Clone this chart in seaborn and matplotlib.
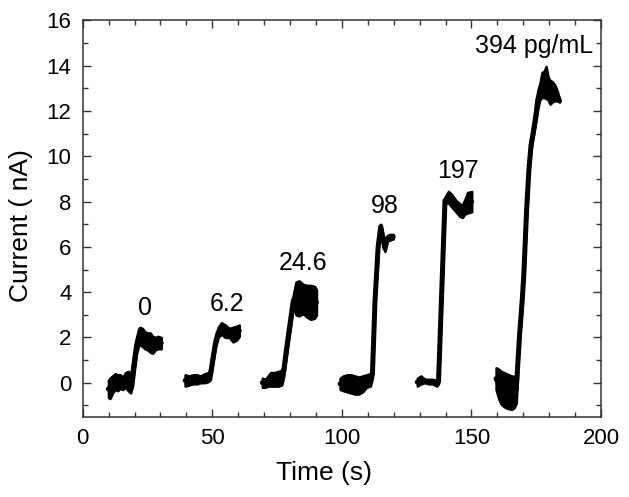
import numpy as np
import pandas as pd
import matplotlib
matplotlib.use("Agg")
import matplotlib.pyplot as plt
from matplotlib.ticker import MultipleLocator
import seaborn as sns

# ---- data (time in s, current envelope in nA) ----
t_0 = [9.9, 10.5, 11.5, 12.5, 13.5, 14.5, 15.5, 16.5, 17.5, 18.5, 19.3, 20.0, 20.8,
       21.5, 22.0, 23.0, 24.0, 25.0, 26.0, 27.0, 28.0, 29.0, 30.3]
lo_0 = [-0.65, -0.7, -0.45, -0.3, -0.35, -0.25, -0.3, -0.2, -0.35, -0.45, -0.1, 0.6, 1.3,
        1.6, 1.7, 1.6, 1.5, 1.45, 1.35, 1.3, 1.45, 1.5, 1.5]
hi_0 = [0.1, 0.2, 0.3, 0.4, 0.35, 0.35, 0.25, 0.45, 0.5, 0.4, 0.8, 1.4, 2.0,
        2.35, 2.45, 2.4, 2.25, 2.2, 2.2, 2.05, 2.0, 2.05, 2.0]

t_1 = [39.5, 41, 42.5, 44, 45.5, 47, 48.5, 49.3, 50.3, 51.3, 52.3, 53.5, 55, 56.5, 58, 59.5, 60.4]
lo_1 = [-0.15, -0.1, -0.05, -0.05, 0.0, 0.0, 0.05, 0.15, 0.9, 1.6, 2.0, 2.15, 2.0, 2.0, 1.8, 1.9, 2.05]
hi_1 = [0.35, 0.3, 0.35, 0.35, 0.3, 0.4, 0.45, 0.6, 1.3, 2.0, 2.45, 2.65, 2.55, 2.4, 2.45, 2.5, 2.55]

t_2 = [69.3, 70.5, 71.5, 72.5, 74, 75.5, 76.8, 77.6, 78.5, 79.5, 80.5, 81.3, 82.3,
       83.5, 85, 86.5, 88, 89.5, 90.2]
lo_2 = [-0.2, -0.2, -0.15, -0.15, -0.15, -0.15, -0.1, 0.3, 1.1, 1.9, 2.7, 3.4, 3.0,
        2.95, 3.05, 2.9, 2.8, 2.85, 3.0]
hi_2 = [0.2, 0.15, 0.3, 0.45, 0.45, 0.5, 0.55, 0.8, 1.6, 2.5, 3.3, 3.9, 4.45,
        4.5, 4.35, 4.3, 4.3, 4.25, 4.1]

t_3 = [99.3, 100.5, 102, 103.5, 105, 106.5, 108, 109.5, 111, 111.8, 112.8, 114.0,
       115.0, 116.6, 117.5, 118.5, 119.8]
lo_3 = [-0.3, -0.35, -0.4, -0.45, -0.5, -0.5, -0.4, -0.2, -0.15, 0.2, 3.5, 5.9,
        6.8, 5.8, 6.25, 6.3, 6.35]
hi_3 = [0.2, 0.3, 0.35, 0.35, 0.3, 0.25, 0.3, 0.35, 0.4, 0.6, 3.8, 6.1,
        7.0, 6.05, 6.5, 6.55, 6.55]

t_4 = [129.1, 130.5, 132, 133.5, 135, 136.6, 137.3, 139.8, 141.1, 142.5, 144,
       145.5, 146.5, 147.5, 148.5, 150.1]
lo_4 = [-0.15, -0.05, 0.0, -0.05, -0.05, -0.15, -0.05, 7.9, 7.95, 7.75, 7.55,
        7.35, 7.3, 7.45, 7.5, 7.55]
hi_4 = [0.2, 0.3, 0.15, 0.15, 0.15, 0.1, 0.15, 8.2, 8.45, 8.3, 8.05,
        7.9, 7.85, 8.1, 8.4, 8.45]

t_5 = [159.5, 160.5, 161.5, 162.5, 163.5, 164.5, 165.5, 166.5, 167.3, 168.0, 168.6,
       169.6, 170.2, 171.3, 172.2, 173.0, 173.9, 174.8, 175.6, 176.4, 177.2, 178.0,
       178.8, 179.6, 180.3, 181.2, 182.2, 183.2, 184.0]
lo_5 = [-0.3, -0.7, -0.95, -1.05, -1.12, -1.15, -1.18, -1.1, -0.9, 0.9, 2.0,
        3.5, 4.6, 7.5, 9.3, 10.3, 10.9, 11.5, 12.1, 12.5, 12.6, 12.6,
        12.55, 12.5, 12.3, 12.4, 12.45, 12.45, 12.4]
hi_5 = [0.66, 0.6, 0.5, 0.45, 0.4, 0.35, 0.3, 0.28, 0.3, 1.2, 2.3,
        3.8, 4.9, 7.8, 9.6, 10.7, 11.3, 12.0, 12.9, 13.2, 13.7, 13.75,
        13.97, 13.5, 13.35, 13.3, 13.15, 12.85, 12.5]

labels = ["0", "6.2", "24.6", "98", "197", "394 pg/mL"]
label_x = [24.2, 55.7, 85.2, 116.4, 144.9, 174.2]
label_y = [3.0, 3.16, 5.0, 7.5, 9.04, 14.56]

x_ticks = [0, 50, 100, 150, 200]
y_ticks = [0, 2, 4, 6, 8, 10, 12, 14, 16]

segments = [(t_0, lo_0, hi_0), (t_1, lo_1, hi_1), (t_2, lo_2, hi_2),
            (t_3, lo_3, hi_3), (t_4, lo_4, hi_4), (t_5, lo_5, hi_5)]

# ---- plotting ----
sns.set_theme(style="ticks")
plt.rcParams["font.family"] = ["Liberation Sans", "DejaVu Sans"]

fig = plt.figure(figsize=(6.29, 4.97), dpi=100)
ax = fig.add_axes([0.1315, 0.1616, 0.8240, 0.7972])

for t, lo, hi in segments:
    df = pd.DataFrame({"time": list(t) + list(t), "current": list(lo) + list(hi)})
    sns.lineplot(data=df, x="time", y="current", estimator="mean",
                 errorbar=("pi", 100), color="black", linewidth=3.6,
                 err_kws={"alpha": 1, "linewidth": 1.8, "edgecolor": "black"},
                 ax=ax, legend=False)

for txt, x, y in zip(labels, label_x, label_y):
    ax.text(x, y, txt, ha="center", va="baseline", fontsize=18, color="black")

ax.set_xlim(0, 200)
ax.set_ylim(-1.5, 16)
ax.set_xticks(x_ticks)
ax.set_yticks(y_ticks)
ax.xaxis.set_minor_locator(MultipleLocator(10))
ax.yaxis.set_minor_locator(MultipleLocator(1))
ax.tick_params(which="both", direction="in", top=True, right=True,
               color="#333333", width=1)
ax.tick_params(which="major", length=6, labelsize=16, pad=8, labelcolor="black")
ax.tick_params(which="minor", length=3.5)
for s in ax.spines.values():
    s.set_color("#333333")
    s.set_linewidth(1.1)

ax.set_xlabel("Time (s)", fontsize=19, color="black")
ax.set_ylabel("Current ( nA)", fontsize=19, color="black")
ax.xaxis.set_label_coords(0.465, -0.113)
ax.yaxis.set_label_coords(-0.095, 0.482)

fig.savefig("out.png", dpi=100)
